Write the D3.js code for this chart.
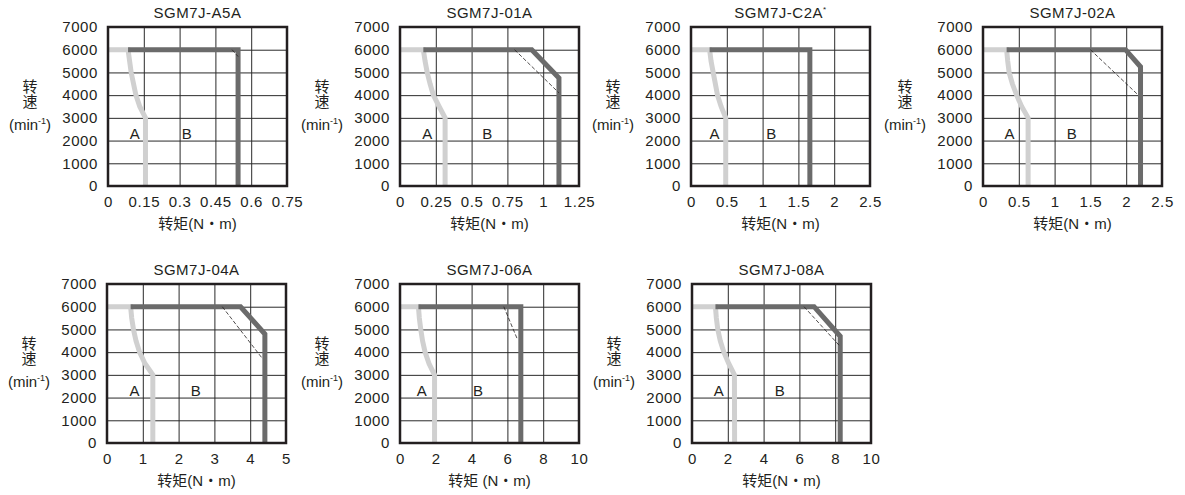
<!DOCTYPE html>
<html>
<head>
<meta charset="utf-8">
<script src="https://cdn.jsdelivr.net/npm/d3@7"></script>
<style>
  body { margin: 0; background: #fff; }
  svg text { font-family: "Liberation Sans", Arial, "Noto Sans CJK SC", sans-serif; fill: #231f20; }
</style>
</head>
<body>
<div id="container"></div>
<script>
// chart titles
var titles = ["SGM7J-A5A", "SGM7J-01A", "SGM7J-C2A", "SGM7J-02A", "SGM7J-04A", "SGM7J-06A", "SGM7J-08A"];
var titleMarks = ["", "", "*", "", "", "", ""];

// x tick labels per chart (last one is the axis max)
var xTickLabels = [
  ["0", "0.15", "0.3", "0.45", "0.6", "0.75"],
  ["0", "0.25", "0.5", "0.75", "1", "1.25"],
  ["0", "0.5", "1", "1.5", "2", "2.5"],
  ["0", "0.5", "1", "1.5", "2", "2.5"],
  ["0", "1", "2", "3", "4", "5"],
  ["0", "2", "4", "6", "8", "10"],
  ["0", "2", "4", "6", "8", "10"]
];
var yTicks = [0, 1000, 2000, 3000, 4000, 5000, 6000, 7000];
var xAxisLabels = ["转矩(N・m)", "转矩(N・m)", "转矩(N・m)", "转矩(N・m)", "转矩(N・m)", "转矩 (N・m)", "转矩(N・m)"];

// region A boundary (torque, speed)
var curveA = [
  [[0, 6000], [0.084, 6000], [0.097, 5000], [0.117, 4000], [0.133, 3500], [0.157, 3000], [0.157, 0]],
  [[0, 6000], [0.163, 6000], [0.175, 5500], [0.19, 5000], [0.21, 4500], [0.233, 4000], [0.273, 3500], [0.315, 3000], [0.315, 0]],
  [[0, 6000], [0.26, 6000], [0.28, 5500], [0.31, 5000], [0.34, 4500], [0.37, 4000], [0.42, 3500], [0.485, 3000], [0.485, 0]],
  [[0, 6000], [0.33, 6000], [0.345, 5500], [0.365, 5000], [0.41, 4500], [0.47, 4000], [0.54, 3500], [0.63, 3000], [0.63, 0]],
  [[0, 6000], [0.66, 6000], [0.69, 5500], [0.74, 5000], [0.81, 4500], [0.91, 4000], [1.06, 3500], [1.28, 3000], [1.28, 0]],
  [[0, 6000], [1.03, 6000], [1.08, 5500], [1.16, 5000], [1.26, 4500], [1.4, 4000], [1.62, 3500], [1.93, 3000], [1.93, 0]],
  [[0, 6000], [1.31, 6000], [1.36, 5500], [1.44, 5000], [1.58, 4500], [1.78, 4000], [2.05, 3500], [2.37, 3000], [2.38, 0]]
];

// region B boundary
var curveB = [
  [[0.084, 6000], [0.545, 6000], [0.545, 0]],
  [[0.163, 6000], [0.92, 6000], [1.11, 4750], [1.11, 0]],
  [[0.26, 6000], [1.66, 6000], [1.66, 0]],
  [[0.33, 6000], [1.99, 6000], [2.2, 5250], [2.2, 0]],
  [[0.66, 6000], [3.73, 6000], [4.41, 4800], [4.41, 0]],
  [[1.03, 6000], [6.75, 6000], [6.75, 0]],
  [[1.31, 6000], [6.82, 6000], [8.28, 4700], [8.28, 0]]
];

// dashed lines
var dashLines = [
  [[0.52, 6000], [0.545, 5700]],
  [[0.80, 6000], [1.11, 4100]],
  [],
  [[1.50, 6000], [2.17, 4000]],
  [[3.22, 6000], [4.35, 3700]],
  [[5.8, 6000], [6.54, 4600]],
  [[6.26, 6000], [8.22, 4300]]
];

// "A" / "B" label positions (torque, speed)
var labelA = [[0.112, 2300], [0.19, 2300], [0.33, 2300], [0.37, 2300], [0.77, 2300], [1.21, 2300], [1.5, 2300]];
var labelB = [[0.33, 2300], [0.61, 2300], [1.12, 2300], [1.24, 2300], [2.48, 2300], [4.36, 2300], [4.9, 2300]];

function load() {
  var W = 1185, H = 495;
  var w = 179, h = 159;
  var lefts = [108, 400, 691, 983, 107, 400, 692];
  var tops = [27, 27, 27, 27, 284, 284, 284];

  var svg = d3.select("#container").append("svg")
    .attr("width", W)
    .attr("height", H);

  titles.forEach(function(title, i) {
    var ticks = xTickLabels[i].map(Number);
    var xScale = d3.scaleLinear().domain([0, d3.max(ticks)]).range([0, w]);
    var yScale = d3.scaleLinear().domain([0, 7000]).range([h, 0]);

    var g = svg.append("g")
      .attr("transform", "translate(" + lefts[i] + "," + tops[i] + ")");

    // y axis with grid
    var yAx = g.append("g")
      .call(d3.axisLeft(yScale).tickValues(yTicks).tickSize(-w).tickPadding(10).tickFormat(d3.format("d")));
    // x axis with grid
    var xAx = g.append("g")
      .attr("transform", "translate(0," + h + ")")
      .call(d3.axisBottom(xScale).tickValues(ticks).tickSize(-h).tickPadding(10)
        .tickFormat(function(d, k) { return xTickLabels[i][k]; }));

    [yAx, xAx].forEach(function(ax) {
      ax.select(".domain").remove();
      ax.selectAll("line").attr("stroke", "#2a2a2a").attr("stroke-width", 1);
      ax.selectAll("text").attr("font-size", 15).attr("letter-spacing", "0.6px").attr("fill", "#231f20");
    });

    var line = d3.line()
      .x(function(d) { return xScale(d[0]); })
      .y(function(d) { return yScale(d[1]); });

    g.append("path")
      .attr("d", line(curveA[i]))
      .attr("fill", "none")
      .attr("stroke", "#d0d0d0")
      .attr("stroke-width", 5);

    g.append("path")
      .attr("d", line(curveB[i]))
      .attr("fill", "none")
      .attr("stroke", "#6b6b6b")
      .attr("stroke-width", 5)
      .attr("stroke-linejoin", "miter");

    if (dashLines[i].length) {
      g.append("path")
        .attr("d", line(dashLines[i]))
        .attr("fill", "none")
        .attr("stroke", "#231f20")
        .attr("stroke-width", 0.8)
        .attr("stroke-dasharray", "4,2");
    }

    // frame
    g.append("rect")
      .attr("width", w).attr("height", h)
      .attr("fill", "none")
      .attr("stroke", "#231f20")
      .attr("stroke-width", 2.5);

    // region labels
    [["A", labelA[i]], ["B", labelB[i]]].forEach(function(l) {
      g.append("text")
        .attr("x", xScale(l[1][0]))
        .attr("y", yScale(l[1][1]))
        .attr("dy", "0.36em")
        .attr("text-anchor", "middle")
        .attr("font-size", 15)
        .text(l[0]);
    });

    // title
    var t = g.append("text")
      .attr("x", w / 2)
      .attr("y", -9)
      .attr("text-anchor", "middle")
      .attr("font-size", 15)
      .attr("letter-spacing", "0.5px")
      .text(title);
    if (titleMarks[i]) {
      t.append("tspan").attr("font-size", 8).attr("dy", -6).text(titleMarks[i]);
    }

    // x axis label
    g.append("text")
      .attr("x", w / 2)
      .attr("y", h + 43)
      .attr("text-anchor", "middle")
      .attr("font-size", 15)
      .text(xAxisLabels[i]);

    // y axis label
    var yl = g.append("g").attr("transform", "translate(-78,0)");
    yl.append("text").attr("y", 65).attr("text-anchor", "middle").attr("font-size", 15).text("转");
    yl.append("text").attr("y", 80).attr("text-anchor", "middle").attr("font-size", 15).text("速");
    var m = yl.append("text").attr("y", 103).attr("text-anchor", "middle").attr("font-size", 15);
    m.append("tspan").text("(min");
    m.append("tspan").attr("font-size", 9).attr("dy", -6).text("-1");
    m.append("tspan").attr("dy", 6).text(")");
  });
}
load();
</script>
</body>
</html>
